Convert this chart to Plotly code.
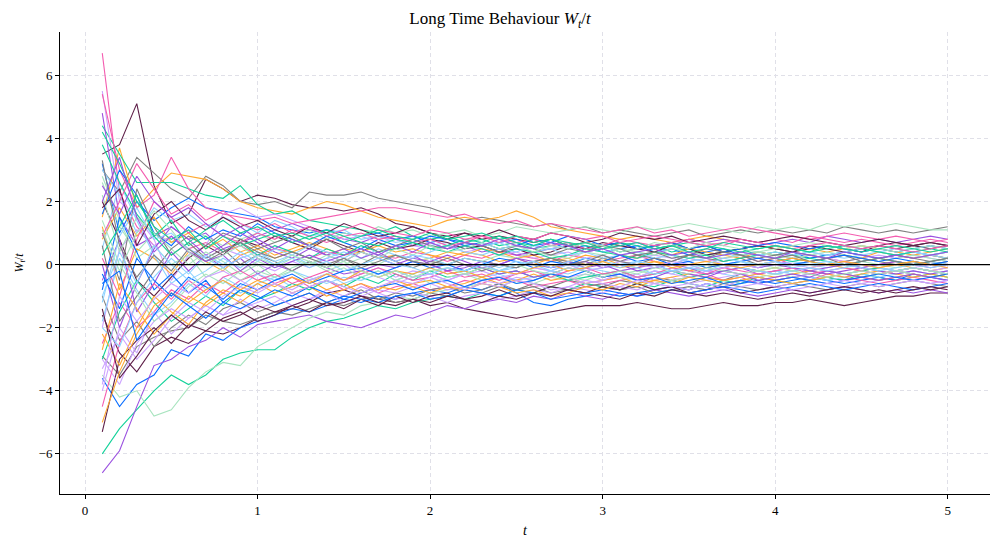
import plotly.graph_objects as go

# time grid (t = 0.1 ... 5.0)
t_values = [round(0.1 * k, 1) for k in range(1, 51)]

# W_t / t paths (approximate)
w01 = [6.7, 2.3, 1.2, 0.6, 0.9, 0.5, 0.7, 0.4, 0.6, 0.3, 0.5, 0.4, 0.2, 0.4, 0.3, 0.5, 0.3, 0.2, 0.4, 0.3, 0.1, 0.3, 0.2, 0.4, 0.3, 0.2, 0.1, 0.3, 0.2, 0.1, 0.2, 0.3, 0.1, 0.0, 0.2, 0.1, 0.2, 0.3, 0.1, 0.2, 0.0, 0.1, 0.2, 0.1, -0.1, 0.0, 0.1, 0.0, 0.1, 0.0]
w02 = [3.5, 3.8, 5.1, 2.5, 1.3, 1.6, 2.7, 2.4, 2.0, 2.2, 2.1, 1.9, 1.8, 1.8, 1.7, 1.8, 1.6, 1.3, 1.2, 1.0, 0.9, 1.0, 0.8, 0.9, 0.8, 0.7, 0.8, 0.6, 0.7, 0.6, 0.7, 0.5, 0.6, 0.7, 0.5, 0.6, 0.4, 0.5, 0.6, 0.5, 0.4, 0.5, 0.6, 0.5, 0.4, 0.6, 0.5, 0.6, 0.7, 0.6]
w03 = [3.0, 2.3, 3.4, 2.9, 2.4, 2.1, 2.8, 2.5, 2.0, 1.9, 2.0, 1.8, 2.3, 2.2, 2.2, 2.3, 2.1, 2.0, 1.9, 1.8, 1.6, 1.4, 1.5, 1.4, 1.3, 1.2, 1.3, 1.1, 1.2, 1.0, 1.1, 1.0, 0.9, 1.0, 1.1, 0.9, 1.0, 1.1, 1.0, 1.1, 1.0, 1.1, 1.0, 1.2, 1.1, 1.0, 1.1, 1.0, 1.1, 1.2]
w04 = [1.5, 3.7, 1.8, 2.4, 2.9, 2.8, 2.7, 2.4, 2.0, 1.8, 1.7, 1.6, 1.8, 2.0, 1.9, 1.7, 1.5, 1.4, 1.3, 1.2, 1.4, 1.5, 1.4, 1.5, 1.7, 1.5, 1.2, 1.1, 1.0, 0.9, 0.8, 0.9, 0.8, 0.7, 0.8, 0.9, 0.8, 0.7, 0.6, 0.5, 0.6, 0.5, 0.4, 0.5, 0.6, 0.5, 0.4, 0.3, 0.4, 0.5]
w05 = [4.4, 3.5, 2.6, 2.6, 2.6, 2.4, 2.2, 2.1, 2.5, 1.9, 1.6, 1.7, 1.4, 1.3, 1.2, 1.1, 1.0, 1.2, 0.9, 0.8, 0.9, 0.7, 0.8, 0.6, 0.7, 0.5, 0.6, 0.7, 0.5, 0.6, 0.4, 0.5, 0.6, 0.4, 0.5, 0.3, 0.4, 0.5, 0.3, 0.4, 0.3, 0.2, 0.3, 0.4, 0.3, 0.2, 0.3, 0.2, 0.3, 0.4]
w06 = [3.2, 1.0, 2.0, 1.4, 1.8, 2.1, 1.8, 1.7, 1.6, 1.5, 1.2, 1.1, 1.0, 1.1, 1.0, 0.9, 1.0, 0.8, 0.9, 0.7, 0.8, 0.7, 0.6, 0.7, 0.8, 0.6, 0.7, 0.5, 0.6, 0.4, 0.5, 0.6, 0.4, 0.5, 0.3, 0.4, 0.5, 0.3, 0.4, 0.3, 0.4, 0.2, 0.3, 0.4, 0.3, 0.2, 0.3, 0.4, 0.3, 0.2]
w07 = [4.8, 1.5, 0.6, 0.9, 1.2, 0.8, 1.0, 0.5, 0.7, 0.9, 1.1, 1.3, 1.1, 1.0, 0.8, 0.7, 0.9, 0.8, 0.6, 0.7, 0.5, 0.6, 0.4, 0.5, 0.3, 0.4, 0.5, 0.6, 0.4, 0.5, 0.6, 0.7, 0.5, 0.6, 0.8, 0.7, 0.8, 0.7, 0.6, 0.7, 0.8, 0.7, 0.9, 0.8, 0.7, 0.8, 0.7, 0.8, 0.9, 0.8]
w08 = [5.5, 2.0, 1.5, 0.8, -0.5, 0.3, 0.6, 1.6, 1.8, 1.5, 1.6, 1.4, 1.2, 1.0, 0.8, 0.9, 0.7, 0.8, 0.6, 0.5, 0.6, 0.4, 0.5, 0.3, 0.4, 0.2, 0.3, 0.4, 0.2, 0.3, 0.1, 0.2, 0.3, 0.2, 0.1, 0.2, 0.0, 0.1, 0.2, 0.1, 0.2, 0.3, 0.2, 0.1, 0.2, 0.3, 0.2, 0.3, 0.2, 0.1]
w09 = [2.6, 1.2, 0.4, 1.0, 0.7, 1.1, 0.9, 0.6, 0.8, 1.0, 0.7, 0.9, 1.1, 0.8, 1.0, 0.9, 1.2, 1.0, 1.1, 0.9, 1.0, 1.1, 0.9, 1.0, 1.2, 1.1, 1.0, 1.1, 1.2, 1.1, 1.0, 1.2, 1.1, 1.2, 1.3, 1.2, 1.1, 1.0, 1.2, 1.1, 1.2, 1.1, 1.3, 1.2, 1.3, 1.2, 1.3, 1.2, 1.1, 1.1]
w10 = [3.0, 2.2, 1.0, 1.8, 1.4, 1.6, 1.2, 1.5, 1.3, 1.0, 1.4, 1.2, 0.9, 1.0, 1.1, 0.8, 0.9, 0.7, 0.8, 0.6, 0.7, 0.5, 0.6, 0.7, 0.5, 0.4, 0.5, 0.6, 0.5, 0.4, 0.5, 0.3, 0.4, 0.5, 0.4, 0.3, 0.4, 0.2, 0.3, 0.4, 0.3, 0.4, 0.3, 0.2, 0.3, 0.4, 0.5, 0.4, 0.3, 0.4]
w11 = [5.4, 3.0, 1.8, 2.2, 3.4, 2.4, 1.8, 1.6, 1.5, 1.4, 1.5, 1.3, 1.4, 1.5, 1.6, 1.7, 1.8, 1.8, 1.7, 1.6, 1.5, 1.6, 1.4, 1.3, 1.4, 1.2, 1.3, 1.2, 1.1, 1.0, 1.1, 1.2, 1.0, 1.1, 0.9, 1.0, 1.1, 1.2, 1.1, 1.0, 0.9, 0.8, 0.9, 1.0, 0.9, 0.8, 0.9, 0.8, 0.7, 0.8]
w12 = [-1.6, -2.8, -3.4, -2.6, -2.3, -2.5, -2.1, -2.2, -2.0, -1.7, -1.5, -1.4, -1.2, -0.9, -0.8, -1.0, -1.1, -1.2, -1.1, -1.3, -1.2, -1.4, -1.5, -1.6, -1.7, -1.6, -1.5, -1.4, -1.3, -1.3, -1.3, -1.2, -1.3, -1.4, -1.4, -1.3, -1.2, -1.3, -1.3, -1.2, -1.2, -1.1, -1.2, -1.3, -1.2, -1.1, -1.0, -1.0, -0.9, -0.9]
w13 = [-2.9, -3.5, -2.6, -2.3, -2.1, -2.0, -1.6, -1.8, -1.9, -1.7, -1.5, -1.6, -1.4, -1.2, -1.3, -1.1, -1.0, -1.2, -1.1, -0.9, -1.0, -0.8, -0.9, -0.7, -0.8, -0.6, -0.7, -0.5, -0.6, -0.7, -0.5, -0.6, -0.4, -0.5, -0.6, -0.4, -0.5, -0.3, -0.4, -0.5, -0.4, -0.3, -0.4, -0.5, -0.4, -0.3, -0.2, -0.3, -0.4, -0.3]
w14 = [1.2, -0.8, 0.5, 0.2, -0.3, 0.4, 0.1, -0.2, 0.3, 0.5, 0.2, 0.4, 0.6, 0.3, 0.5, 0.4, 0.2, 0.3, 0.1, 0.2, 0.4, 0.3, 0.5, 0.4, 0.2, 0.3, 0.1, 0.2, 0.0, 0.1, 0.3, 0.2, 0.4, 0.3, 0.5, 0.4, 0.3, 0.2, 0.4, 0.3, 0.2, 0.1, 0.2, 0.3, 0.2, 0.4, 0.3, 0.2, 0.3, 0.2]
w15 = [-6.0, -5.2, -4.6, -4.0, -3.5, -3.8, -3.5, -3.0, -2.8, -2.7, -2.7, -2.3, -2.0, -1.8, -1.7, -1.5, -1.3, -1.4, -1.2, -1.1, -1.0, -1.1, -0.9, -1.0, -0.8, -0.9, -0.7, -0.8, -0.6, -0.7, -0.8, -0.6, -0.7, -0.5, -0.6, -0.7, -0.5, -0.6, -0.4, -0.5, -0.6, -0.5, -0.4, -0.5, -0.3, -0.4, -0.5, -0.4, -0.3, -0.4]
w16 = [-3.6, -4.5, -3.8, -3.5, -2.7, -2.9, -2.2, -2.4, -2.0, -1.8, -1.6, -1.4, -1.5, -1.3, -1.1, -1.2, -1.0, -1.1, -0.9, -0.8, -0.9, -0.7, -0.8, -0.6, -0.9, -1.2, -1.3, -1.1, -1.0, -0.9, -1.0, -0.9, -0.8, -0.7, -0.8, -0.6, -0.7, -0.6, -0.5, -0.6, -0.5, -0.4, -0.5, -0.6, -0.5, -0.4, -0.5, -0.3, -0.4, -0.5]
w17 = [-6.6, -5.9, -4.5, -3.2, -3.0, -2.6, -2.4, -2.0, -2.3, -1.9, -1.8, -1.7, -1.6, -1.8, -1.9, -2.0, -1.8, -1.6, -1.7, -1.5, -1.3, -1.4, -1.2, -1.1, -1.2, -1.0, -1.1, -0.9, -1.0, -1.1, -0.9, -1.0, -0.8, -0.9, -1.0, -0.9, -0.8, -0.9, -1.0, -0.9, -0.8, -0.9, -0.8, -0.7, -0.8, -0.9, -0.8, -0.9, -0.8, -0.9]
w18 = [-2.0, 0.5, 1.1, 0.6, 0.9, 0.4, 0.2, 0.5, 0.3, 0.0, -0.2, 0.1, -0.1, 0.2, 0.0, -0.3, -0.1, -0.4, -0.2, -0.3, -0.5, -0.3, -0.4, -0.2, -0.3, -0.1, -0.2, -0.4, -0.3, -0.5, -0.4, -0.3, -0.5, -0.4, -0.6, -0.5, -0.4, -0.3, -0.4, -0.5, -0.4, -0.3, -0.2, -0.3, -0.4, -0.3, -0.2, -0.3, -0.4, -0.3]
w19 = [-3.5, -4.2, -4.0, -4.8, -4.6, -3.9, -3.4, -3.1, -3.2, -2.6, -2.3, -2.0, -1.7, -1.5, -1.6, -1.3, -1.2, -1.0, -1.1, -0.9, -0.8, -0.7, -0.6, -0.7, -0.5, -0.6, -0.4, -0.5, -0.3, -0.4, -0.3, -0.2, -0.3, -0.1, -0.2, 0.0, -0.1, 0.1, 0.0, -0.1, 0.0, 0.1, 0.0, -0.1, 0.1, 0.0, -0.1, 0.0, 0.1, 0.0]
w20 = [0.5, 2.6, 1.4, 0.3, -0.6, -0.2, -0.8, -0.5, -0.9, -0.6, -0.4, -0.7, -0.5, -0.3, -0.6, -0.4, -0.2, -0.5, -0.3, -0.1, -0.3, -0.2, 0.0, -0.2, -0.1, 0.1, -0.1, 0.0, -0.2, -0.1, 0.0, 0.1, -0.1, 0.0, 0.2, 0.1, 0.0, 0.1, -0.1, 0.0, 0.1, 0.0, -0.1, 0.0, 0.1, 0.2, 0.1, 0.0, 0.1, 0.0]
w21 = [-2.5, -1.2, -2.0, -1.5, -0.8, -1.1, -0.6, -0.9, -0.5, -0.3, -0.6, -0.4, -0.7, -0.5, -0.8, -0.6, -0.9, -0.7, -0.6, -0.8, -0.7, -0.5, -0.6, -0.4, -0.5, -0.7, -0.6, -0.5, -0.7, -0.6, -0.5, -0.4, -0.6, -0.5, -0.4, -0.3, -0.5, -0.4, -0.6, -0.5, -0.4, -0.5, -0.3, -0.4, -0.5, -0.6, -0.5, -0.4, -0.5, -0.6]
w22 = [2.0, 0.8, -0.5, -1.0, -0.4, 0.2, 0.6, 0.3, 0.8, 0.6, 0.9, 0.7, 0.5, 0.8, 0.6, 0.4, 0.7, 0.5, 0.6, 0.8, 0.7, 0.5, 0.6, 0.4, 0.5, 0.3, 0.4, 0.6, 0.5, 0.7, 0.6, 0.5, 0.4, 0.6, 0.5, 0.3, 0.4, 0.5, 0.6, 0.5, 0.4, 0.6, 0.5, 0.4, 0.5, 0.6, 0.7, 0.6, 0.5, 0.6]
w23 = [-1.0, -2.4, -1.8, -2.6, -2.0, -1.6, -1.9, -1.4, -1.2, -1.5, -1.3, -1.1, -0.9, -1.2, -1.0, -0.8, -1.1, -0.9, -1.0, -0.8, -0.7, -0.9, -0.8, -0.6, -0.8, -0.7, -0.9, -0.8, -0.7, -0.6, -0.8, -0.7, -0.9, -0.8, -0.7, -0.8, -0.6, -0.7, -0.8, -0.7, -0.6, -0.7, -0.8, -0.7, -0.6, -0.7, -0.6, -0.5, -0.6, -0.7]
w24 = [0.8, 1.8, 0.9, 1.5, 0.7, 1.0, 0.5, 0.8, 0.4, 0.6, 0.3, 0.5, 0.7, 0.5, 0.3, 0.4, 0.6, 0.4, 0.5, 0.3, 0.2, 0.4, 0.3, 0.1, 0.2, 0.0, 0.2, 0.1, 0.3, 0.2, 0.0, -0.1, 0.1, 0.0, -0.2, -0.1, 0.0, -0.1, -0.2, -0.1, -0.2, -0.1, 0.0, -0.1, -0.2, -0.1, 0.0, -0.1, -0.2, -0.1]
w25 = [-3.0, -1.5, -0.5, -1.2, -1.8, -1.4, -1.0, -1.3, -0.8, -1.1, -0.9, -0.6, -0.8, -0.5, -0.7, -0.4, -0.6, -0.3, -0.5, -0.2, -0.4, -0.3, -0.1, -0.3, -0.2, -0.4, -0.3, -0.5, -0.4, -0.3, -0.2, -0.4, -0.3, -0.2, -0.4, -0.3, -0.2, -0.1, -0.2, -0.3, -0.2, -0.1, -0.2, -0.3, -0.2, -0.1, -0.2, -0.1, -0.2, -0.3]
w26 = [1.6, 3.0, 2.2, 1.0, 0.6, 1.2, 0.8, 1.1, 0.9, 1.3, 1.0, 0.8, 0.6, 0.9, 0.7, 0.5, 0.8, 0.6, 0.7, 0.9, 0.8, 0.6, 0.7, 0.5, 0.6, 0.8, 0.7, 0.9, 0.8, 0.6, 0.7, 0.5, 0.6, 0.7, 0.5, 0.6, 0.4, 0.5, 0.6, 0.7, 0.6, 0.5, 0.6, 0.5, 0.4, 0.5, 0.4, 0.5, 0.6, 0.5]
w27 = [-0.5, 0.8, -1.5, -0.6, 0.4, -0.2, 0.3, -0.1, 0.2, -0.3, 0.0, -0.2, 0.1, -0.1, -0.3, -0.2, 0.0, -0.1, 0.1, 0.0, -0.2, -0.1, 0.1, 0.0, 0.2, 0.1, -0.1, 0.0, 0.1, -0.1, 0.0, -0.2, -0.1, 0.0, -0.1, -0.2, -0.1, 0.0, -0.1, 0.0, -0.1, -0.2, -0.1, 0.0, -0.1, 0.0, 0.1, 0.0, -0.1, 0.0]
w28 = [-4.0, -2.0, -2.8, -1.5, -2.2, -1.7, -1.3, -1.6, -1.1, -1.4, -1.2, -0.9, -1.1, -0.8, -1.0, -0.7, -0.9, -1.1, -0.9, -1.0, -1.2, -1.0, -0.9, -1.1, -1.0, -0.8, -0.9, -0.7, -0.8, -0.9, -0.7, -0.8, -0.6, -0.7, -0.8, -0.6, -0.7, -0.5, -0.6, -0.7, -0.6, -0.5, -0.6, -0.7, -0.6, -0.5, -0.4, -0.5, -0.6, -0.5]
w29 = [2.8, 1.4, 0.2, 0.6, 0.0, 0.3, -0.4, -0.1, -0.5, -0.2, -0.4, -0.1, 0.1, -0.2, 0.0, 0.2, 0.0, 0.3, 0.1, 0.2, 0.0, 0.2, 0.1, 0.3, 0.2, 0.4, 0.3, 0.2, 0.4, 0.3, 0.5, 0.4, 0.3, 0.5, 0.4, 0.3, 0.2, 0.3, 0.4, 0.3, 0.2, 0.3, 0.4, 0.3, 0.2, 0.1, 0.2, 0.3, 0.2, 0.1]
w30 = [-1.8, 0.2, -0.8, -1.6, -1.2, -0.6, -1.0, -0.4, -0.7, -0.3, -0.5, -0.2, -0.4, -0.6, -0.4, -0.5, -0.3, -0.2, -0.4, -0.3, -0.1, -0.2, -0.4, -0.3, -0.5, -0.4, -0.2, -0.3, -0.1, -0.2, -0.3, -0.4, -0.2, -0.3, -0.1, -0.2, -0.3, -0.4, -0.3, -0.2, -0.3, -0.4, -0.5, -0.4, -0.3, -0.4, -0.3, -0.2, -0.3, -0.2]
w31 = [0.2, -1.0, 0.8, 2.0, 1.5, 1.0, 1.3, 0.9, 0.7, 1.0, 0.8, 1.1, 0.9, 0.7, 0.9, 1.0, 0.8, 0.9, 0.7, 0.8, 0.6, 0.7, 0.9, 0.8, 0.7, 0.8, 0.6, 0.7, 0.5, 0.6, 0.8, 0.7, 0.6, 0.7, 0.8, 0.7, 0.6, 0.8, 0.7, 0.8, 0.7, 0.9, 0.8, 0.7, 0.8, 0.7, 0.6, 0.7, 0.8, 0.7]
w32 = [-5.3, -3.0, -2.4, -2.0, -2.5, -1.9, -2.1, -1.7, -1.5, -1.8, -1.6, -1.3, -1.5, -1.2, -1.4, -1.1, -1.3, -1.0, -1.2, -1.0, -0.9, -1.1, -1.0, -0.8, -1.0, -0.9, -0.7, -0.8, -0.9, -0.7, -0.8, -0.6, -0.8, -0.7, -0.9, -0.8, -0.7, -0.9, -0.8, -0.7, -0.8, -0.9, -0.8, -0.7, -0.8, -0.9, -0.8, -0.7, -0.8, -0.7]
w33 = [1.0, -0.5, 2.4, 1.2, 0.3, 0.7, 0.2, 0.5, 0.0, 0.3, 0.1, -0.2, 0.1, -0.1, 0.2, 0.0, 0.3, 0.1, -0.1, 0.1, 0.0, 0.2, 0.1, 0.0, -0.1, 0.1, 0.2, 0.1, 0.0, 0.2, 0.1, 0.3, 0.2, 0.1, 0.3, 0.2, 0.1, 0.2, 0.0, 0.1, 0.2, 0.1, 0.0, 0.1, 0.2, 0.1, 0.0, 0.1, 0.0, 0.1]
w34 = [-2.2, -3.2, -2.0, -1.0, -1.5, -1.9, -1.2, -0.8, -1.0, -0.6, -0.9, -0.7, -0.5, -0.8, -0.6, -0.9, -0.7, -0.8, -0.6, -0.5, -0.7, -0.6, -0.4, -0.6, -0.5, -0.3, -0.5, -0.4, -0.6, -0.5, -0.4, -0.6, -0.5, -0.4, -0.3, -0.4, -0.5, -0.4, -0.3, -0.4, -0.3, -0.2, -0.3, -0.4, -0.3, -0.2, -0.3, -0.4, -0.3, -0.4]
w35 = [3.8, 2.6, 1.6, 0.9, 1.4, 0.6, 0.9, 0.4, 0.7, 0.3, 0.6, 0.4, 0.2, 0.5, 0.3, 0.6, 0.4, 0.5, 0.7, 0.5, 0.4, 0.6, 0.5, 0.3, 0.5, 0.4, 0.2, 0.3, 0.5, 0.4, 0.3, 0.2, 0.4, 0.3, 0.2, 0.3, 0.1, 0.2, 0.3, 0.2, 0.1, 0.2, 0.1, 0.0, 0.1, 0.2, 0.1, 0.0, 0.1, 0.2]
w36 = [-0.8, 1.5, 0.4, -0.8, -0.3, -0.9, -0.5, -1.2, -0.8, -1.0, -1.3, -1.1, -0.9, -1.2, -1.0, -1.1, -1.2, -1.0, -0.9, -1.1, -1.0, -0.8, -0.9, -1.0, -0.8, -0.9, -1.1, -1.0, -0.9, -0.8, -0.9, -1.0, -0.9, -0.8, -0.9, -0.8, -0.7, -0.8, -0.9, -0.8, -0.7, -0.6, -0.7, -0.8, -0.7, -0.6, -0.7, -0.8, -0.7, -0.6]
w37 = [0.0, -2.0, -0.6, 0.5, 1.2, 0.8, 0.3, 0.6, 1.0, 0.7, 0.4, 0.2, 0.5, 0.3, 0.1, 0.4, 0.2, 0.0, 0.2, 0.1, 0.3, 0.1, -0.1, 0.0, 0.2, 0.0, -0.1, 0.1, -0.1, 0.0, -0.2, -0.1, 0.0, -0.2, -0.1, -0.3, -0.2, -0.1, -0.3, -0.2, -0.1, -0.2, -0.3, -0.2, -0.1, -0.2, -0.3, -0.2, -0.3, -0.2]
w38 = [-3.0, -3.8, -2.5, -1.8, -1.4, -1.7, -1.3, -1.6, -1.4, -1.2, -1.0, -1.3, -1.1, -0.9, -1.2, -1.0, -0.8, -0.9, -0.7, -0.6, -0.8, -0.7, -0.5, -0.6, -0.4, -0.5, -0.3, -0.4, -0.6, -0.5, -0.3, -0.4, -0.2, -0.3, -0.4, -0.2, -0.3, -0.1, -0.2, -0.3, -0.2, -0.1, -0.2, -0.3, -0.2, -0.3, -0.2, -0.1, -0.2, -0.1]
w39 = [2.2, 0.4, 1.5, 1.0, 0.5, 0.0, 0.4, 0.1, -0.3, 0.0, -0.4, -0.2, -0.5, -0.3, -0.1, -0.4, -0.2, -0.5, -0.3, -0.6, -0.4, -0.3, -0.5, -0.4, -0.6, -0.5, -0.3, -0.4, -0.5, -0.3, -0.4, -0.5, -0.6, -0.5, -0.4, -0.5, -0.6, -0.5, -0.4, -0.3, -0.4, -0.5, -0.4, -0.3, -0.4, -0.3, -0.2, -0.3, -0.4, -0.3]
w40 = [-1.2, 0.9, 1.8, 0.8, 1.0, 0.5, 0.2, -0.1, 0.2, 0.4, 0.1, 0.3, 0.0, 0.2, 0.4, 0.2, 0.5, 0.3, 0.2, 0.4, 0.6, 0.4, 0.3, 0.5, 0.4, 0.6, 0.5, 0.3, 0.4, 0.2, 0.3, 0.4, 0.2, 0.3, 0.1, 0.2, 0.3, 0.4, 0.3, 0.2, 0.3, 0.4, 0.3, 0.4, 0.5, 0.4, 0.3, 0.4, 0.3, 0.2]
w41 = [-4.5, -2.5, -1.2, -0.6, -1.1, -0.5, -0.9, -0.4, -0.2, -0.5, -0.3, -0.6, -0.4, -0.2, -0.5, -0.3, -0.1, -0.3, -0.5, -0.4, -0.2, -0.4, -0.3, -0.5, -0.3, -0.2, -0.4, -0.2, -0.1, -0.3, -0.2, -0.4, -0.3, -0.1, -0.2, -0.3, -0.1, -0.2, -0.3, -0.2, -0.1, -0.3, -0.2, -0.1, -0.2, -0.3, -0.2, -0.1, -0.2, -0.3]
w42 = [1.8, 2.4, 0.6, 1.6, 2.0, 1.4, 1.1, 1.5, 1.2, 1.4, 1.1, 0.9, 1.2, 1.0, 1.3, 1.1, 0.9, 1.0, 1.2, 1.0, 0.8, 1.0, 0.9, 1.1, 0.9, 0.8, 1.0, 0.9, 0.7, 0.8, 1.0, 0.9, 0.8, 0.9, 0.7, 0.8, 0.9, 0.8, 0.7, 0.8, 0.9, 0.8, 0.7, 0.6, 0.7, 0.8, 0.7, 0.6, 0.7, 0.6]
w43 = [0.6, -1.8, -1.0, -0.2, 0.5, 0.9, 0.6, 1.0, 0.8, 0.5, 0.7, 0.9, 0.6, 0.8, 0.5, 0.7, 0.4, 0.6, 0.8, 0.6, 0.5, 0.7, 0.6, 0.4, 0.6, 0.5, 0.3, 0.5, 0.4, 0.6, 0.5, 0.3, 0.4, 0.2, 0.3, 0.5, 0.4, 0.3, 0.2, 0.3, 0.4, 0.3, 0.2, 0.3, 0.1, 0.2, 0.3, 0.2, 0.1, 0.2]
w44 = [-2.7, -0.6, -1.4, -2.2, -1.6, -1.0, -1.3, -0.9, -1.2, -0.8, -0.6, -0.9, -0.7, -1.0, -0.8, -0.6, -0.8, -0.5, -0.7, -0.9, -0.7, -0.8, -0.6, -0.7, -0.9, -0.8, -1.0, -0.9, -0.7, -0.8, -0.6, -0.7, -0.5, -0.6, -0.4, -0.5, -0.6, -0.5, -0.4, -0.5, -0.6, -0.5, -0.4, -0.3, -0.4, -0.5, -0.4, -0.3, -0.4, -0.3]
w45 = [4.2, 3.2, 2.0, 1.2, 0.8, 1.1, 0.5, 0.9, 0.6, 0.8, 1.0, 0.7, 0.9, 1.1, 0.9, 0.7, 0.6, 0.8, 0.7, 0.5, 0.6, 0.8, 0.7, 0.9, 0.7, 0.6, 0.8, 0.7, 0.6, 0.5, 0.7, 0.6, 0.5, 0.6, 0.7, 0.6, 0.5, 0.4, 0.5, 0.6, 0.5, 0.4, 0.5, 0.6, 0.5, 0.4, 0.3, 0.4, 0.5, 0.4]
w46 = [-0.3, -1.4, 0.2, -0.5, -1.0, -0.4, -0.7, -1.1, -0.6, -0.8, -0.5, -0.3, -0.6, -0.4, -0.2, -0.1, -0.3, -0.1, 0.1, -0.1, 0.0, -0.2, 0.0, 0.2, 0.1, -0.1, 0.1, 0.0, 0.2, 0.1, 0.3, 0.1, 0.2, 0.0, 0.1, -0.1, 0.0, 0.1, 0.2, 0.1, 0.0, 0.1, 0.2, 0.3, 0.2, 0.1, 0.2, 0.1, 0.0, 0.1]
w47 = [2.5, 1.6, 2.8, 2.0, 1.5, 1.8, 1.3, 0.9, 1.2, 0.8, 0.5, 0.8, 0.6, 0.3, 0.5, 0.2, 0.4, 0.1, 0.3, 0.0, -0.2, 0.0, -0.1, -0.3, -0.2, -0.4, -0.3, -0.1, -0.2, -0.4, -0.3, -0.5, -0.4, -0.2, -0.3, -0.4, -0.2, -0.3, -0.5, -0.4, -0.3, -0.4, -0.2, -0.3, -0.4, -0.5, -0.4, -0.3, -0.4, -0.5]
w48 = [-3.3, -2.2, -3.0, -2.4, -1.7, -1.2, -1.5, -1.0, -0.7, -0.9, -0.6, -0.8, -0.5, -0.3, -0.5, -0.2, -0.4, -0.6, -0.4, -0.3, -0.5, -0.3, -0.2, -0.4, -0.3, -0.1, -0.2, 0.0, -0.2, -0.1, 0.1, 0.0, -0.1, 0.1, 0.0, -0.2, -0.1, 0.0, -0.1, 0.1, 0.0, -0.1, 0.0, 0.1, 0.0, -0.1, -0.2, -0.1, 0.0, -0.1]
w49 = [1.4, 0.0, -0.9, -1.8, -1.3, -0.7, -0.3, -0.6, -0.2, 0.1, -0.1, 0.2, 0.0, 0.3, 0.1, 0.4, 0.2, 0.5, 0.3, 0.6, 0.4, 0.5, 0.7, 0.5, 0.6, 0.4, 0.6, 0.5, 0.7, 0.6, 0.4, 0.5, 0.7, 0.6, 0.5, 0.7, 0.6, 0.5, 0.4, 0.5, 0.6, 0.7, 0.6, 0.5, 0.6, 0.5, 0.4, 0.5, 0.6, 0.5]
w50 = [-2.0, -2.6, -1.2, -0.4, 0.2, -0.3, 0.3, 0.0, 0.4, 0.1, 0.5, 0.3, 0.6, 0.4, 0.2, 0.5, 0.3, 0.1, 0.3, 0.2, 0.0, 0.2, 0.1, -0.1, 0.1, 0.0, -0.2, 0.0, -0.1, 0.1, 0.0, -0.1, -0.3, -0.2, -0.1, -0.2, 0.0, -0.1, -0.2, -0.3, -0.2, -0.1, -0.2, -0.1, 0.0, -0.1, -0.2, -0.1, -0.2, -0.3]
w51 = [0.9, 2.0, 3.2, 2.4, 1.6, 1.9, 1.4, 1.7, 1.3, 1.1, 1.3, 1.0, 1.2, 0.9, 1.1, 1.3, 1.1, 1.0, 0.9, 1.1, 1.0, 0.8, 0.9, 0.7, 0.9, 0.8, 1.0, 0.9, 0.8, 0.9, 0.7, 0.8, 0.9, 0.8, 0.7, 0.6, 0.7, 0.8, 0.7, 0.6, 0.5, 0.6, 0.7, 0.6, 0.5, 0.6, 0.5, 0.4, 0.5, 0.6]
w52 = [-1.4, -3.6, -2.9, -2.1, -1.6, -2.0, -1.5, -1.8, -1.6, -1.3, -1.5, -1.3, -1.1, -1.3, -1.2, -1.0, -1.2, -1.3, -1.1, -1.2, -1.0, -1.1, -1.2, -1.0, -1.1, -0.9, -1.0, -0.8, -0.9, -1.0, -1.1, -0.9, -1.0, -0.8, -0.9, -1.0, -0.9, -1.0, -1.1, -1.0, -0.9, -1.0, -0.9, -0.8, -0.9, -0.8, -0.9, -0.8, -0.7, -0.8]
w53 = [3.3, 0.6, -0.4, 0.3, -0.2, 0.5, 0.1, 0.4, 0.7, 0.4, 0.2, 0.4, 0.2, 0.0, 0.2, -0.1, 0.1, 0.3, 0.1, 0.0, 0.2, 0.0, -0.2, 0.0, -0.1, 0.1, 0.2, 0.0, 0.1, 0.3, 0.1, 0.0, 0.2, 0.1, 0.3, 0.2, 0.4, 0.3, 0.1, 0.2, 0.3, 0.1, 0.2, 0.0, 0.1, 0.2, 0.1, 0.0, 0.1, 0.2]
w54 = [-5.0, -3.4, -2.2, -1.3, -0.9, -1.2, -0.8, -0.5, -0.8, -0.5, -0.7, -0.4, -0.6, -0.3, -0.5, -0.2, -0.4, -0.2, -0.3, -0.1, -0.3, -0.2, -0.4, -0.2, -0.3, -0.1, 0.0, -0.2, -0.1, 0.1, -0.1, 0.0, 0.1, -0.1, 0.0, 0.1, 0.0, -0.1, 0.0, 0.1, 0.2, 0.1, 0.0, 0.1, 0.0, -0.1, 0.0, 0.1, 0.0, -0.1]
w55 = [0.3, 1.2, 2.2, 0.9, 0.3, 0.7, 1.1, 1.4, 1.0, 1.2, 0.9, 1.0, 0.8, 1.0, 0.7, 0.9, 1.1, 0.9, 0.8, 1.0, 0.8, 0.9, 1.0, 0.8, 0.9, 0.7, 0.8, 0.6, 0.7, 0.5, 0.6, 0.7, 0.5, 0.6, 0.4, 0.5, 0.7, 0.6, 0.5, 0.6, 0.5, 0.4, 0.6, 0.5, 0.4, 0.5, 0.6, 0.5, 0.4, 0.5]
w56 = [-0.6, -0.2, -2.4, -1.6, -0.9, -1.3, -1.7, -1.2, -1.4, -1.1, -0.8, -1.0, -0.7, -0.9, -1.1, -0.9, -0.7, -0.6, -0.8, -0.6, -0.5, -0.7, -0.5, -0.4, -0.6, -0.5, -0.3, -0.4, -0.2, -0.4, -0.3, -0.5, -0.4, -0.6, -0.5, -0.4, -0.6, -0.5, -0.6, -0.5, -0.4, -0.5, -0.6, -0.5, -0.4, -0.3, -0.4, -0.5, -0.4, -0.3]
w57 = [2.0, 3.4, 1.5, 0.4, 0.9, 0.4, 0.1, 0.3, -0.2, 0.2, -0.1, 0.1, 0.3, 0.1, 0.3, 0.5, 0.3, 0.6, 0.4, 0.7, 0.5, 0.7, 0.6, 0.8, 0.6, 0.5, 0.7, 0.6, 0.4, 0.5, 0.3, 0.4, 0.5, 0.3, 0.4, 0.2, 0.3, 0.4, 0.3, 0.2, 0.4, 0.3, 0.2, 0.4, 0.3, 0.2, 0.3, 0.2, 0.3, 0.4]
w58 = [-3.8, -1.0, -1.8, -1.1, -0.6, -0.9, -0.4, -0.2, -0.5, -0.8, -0.6, -0.9, -0.7, -0.5, -0.7, -0.9, -0.7, -0.5, -0.6, -0.4, -0.6, -0.8, -0.6, -0.7, -0.5, -0.6, -0.8, -0.7, -0.5, -0.6, -0.7, -0.5, -0.6, -0.7, -0.6, -0.7, -0.8, -0.7, -0.6, -0.7, -0.8, -0.7, -0.6, -0.5, -0.6, -0.7, -0.6, -0.5, -0.6, -0.5]
w59 = [1.1, -0.2, 1.0, 1.7, 1.1, 0.4, 0.0, 0.3, 0.6, 0.2, 0.0, 0.3, 0.1, -0.1, 0.1, -0.2, -0.4, -0.2, -0.4, -0.2, -0.1, -0.3, -0.1, -0.2, 0.0, -0.2, -0.3, -0.1, -0.2, -0.4, -0.2, -0.3, -0.1, -0.2, -0.3, -0.1, -0.2, -0.3, -0.2, -0.1, -0.2, -0.3, -0.4, -0.3, -0.2, -0.3, -0.2, -0.1, -0.2, -0.3]
w60 = [-1.0, 0.4, -0.6, 0.6, 0.0, -0.5, -0.2, 0.2, -0.1, 0.3, 0.0, 0.2, -0.1, 0.1, -0.2, 0.0, 0.2, 0.0, -0.1, -0.3, -0.1, -0.2, 0.0, -0.2, 0.0, 0.1, -0.1, 0.1, 0.2, 0.0, -0.1, 0.1, 0.0, -0.2, -0.1, 0.0, 0.2, 0.1, 0.0, 0.1, -0.1, 0.0, 0.1, 0.0, -0.1, -0.2, -0.1, 0.0, -0.1, 0.0]

paths = [w01, w02, w03, w04, w05, w06, w07, w08, w09, w10,
         w11, w12, w13, w14, w15, w16, w17, w18, w19, w20,
         w21, w22, w23, w24, w25, w26, w27, w28, w29, w30,
         w31, w32, w33, w34, w35, w36, w37, w38, w39, w40,
         w41, w42, w43, w44, w45, w46, w47, w48, w49, w50,
         w51, w52, w53, w54, w55, w56, w57, w58, w59, w60]

x_ticks = [0, 1, 2, 3, 4, 5]
y_ticks = [-6, -4, -2, 0, 2, 4, 6]

palette = ["#F45DB0", "#5E1F48", "#808080", "#FFAA33", "#14D29A",
           "#0A6EFF", "#9B51E0", "#CDA3FF", "#A8E4BF", "#8FD3FF"]

fig = go.Figure()
for i, p in enumerate(paths):
    fig.add_trace(go.Scatter(
        x=t_values, y=p, mode="lines",
        line=dict(color=palette[i % len(palette)], width=1.1),
        hoverinfo="skip", showlegend=False))

fig.add_shape(type="line", xref="paper", yref="y", x0=0, x1=1, y0=0, y1=0,
              line=dict(color="black", width=1.3), layer="above")

serif = "Liberation Serif, DejaVu Serif, serif"
axis_common = dict(
    showline=True, linecolor="black", linewidth=1, mirror=False,
    ticks="outside", ticklen=4, tickcolor="black", tickwidth=1,
    showgrid=True, gridcolor="#e0e0e8", griddash="4px,3px", gridwidth=1,
    zeroline=False, tickfont=dict(family=serif, size=13, color="black"),
)

fig.update_layout(
    width=1000, height=545,
    margin=dict(l=60, r=10, t=32, b=51),
    paper_bgcolor="white", plot_bgcolor="white",
    title=dict(text="Long Time Behaviour <i>W<sub>t</sub></i>/<i>t</i>",
               x=0.5, xanchor="center", y=0.967, yanchor="middle",
               font=dict(family=serif, size=17, color="black")),
    xaxis=dict(range=[-0.145, 5.245], tickvals=x_ticks,
               title=dict(text="<i>t</i>", font=dict(family=serif, size=14, color="black"), standoff=8),
               **axis_common),
    yaxis=dict(range=[-7.27, 7.37], tickvals=y_ticks,
               title=dict(text="<i>W<sub>t</sub></i>/<i>t</i>", font=dict(family=serif, size=12, color="black"), standoff=12),
               **axis_common),
    hovermode=False,
)

fig.write_html("out.html")
